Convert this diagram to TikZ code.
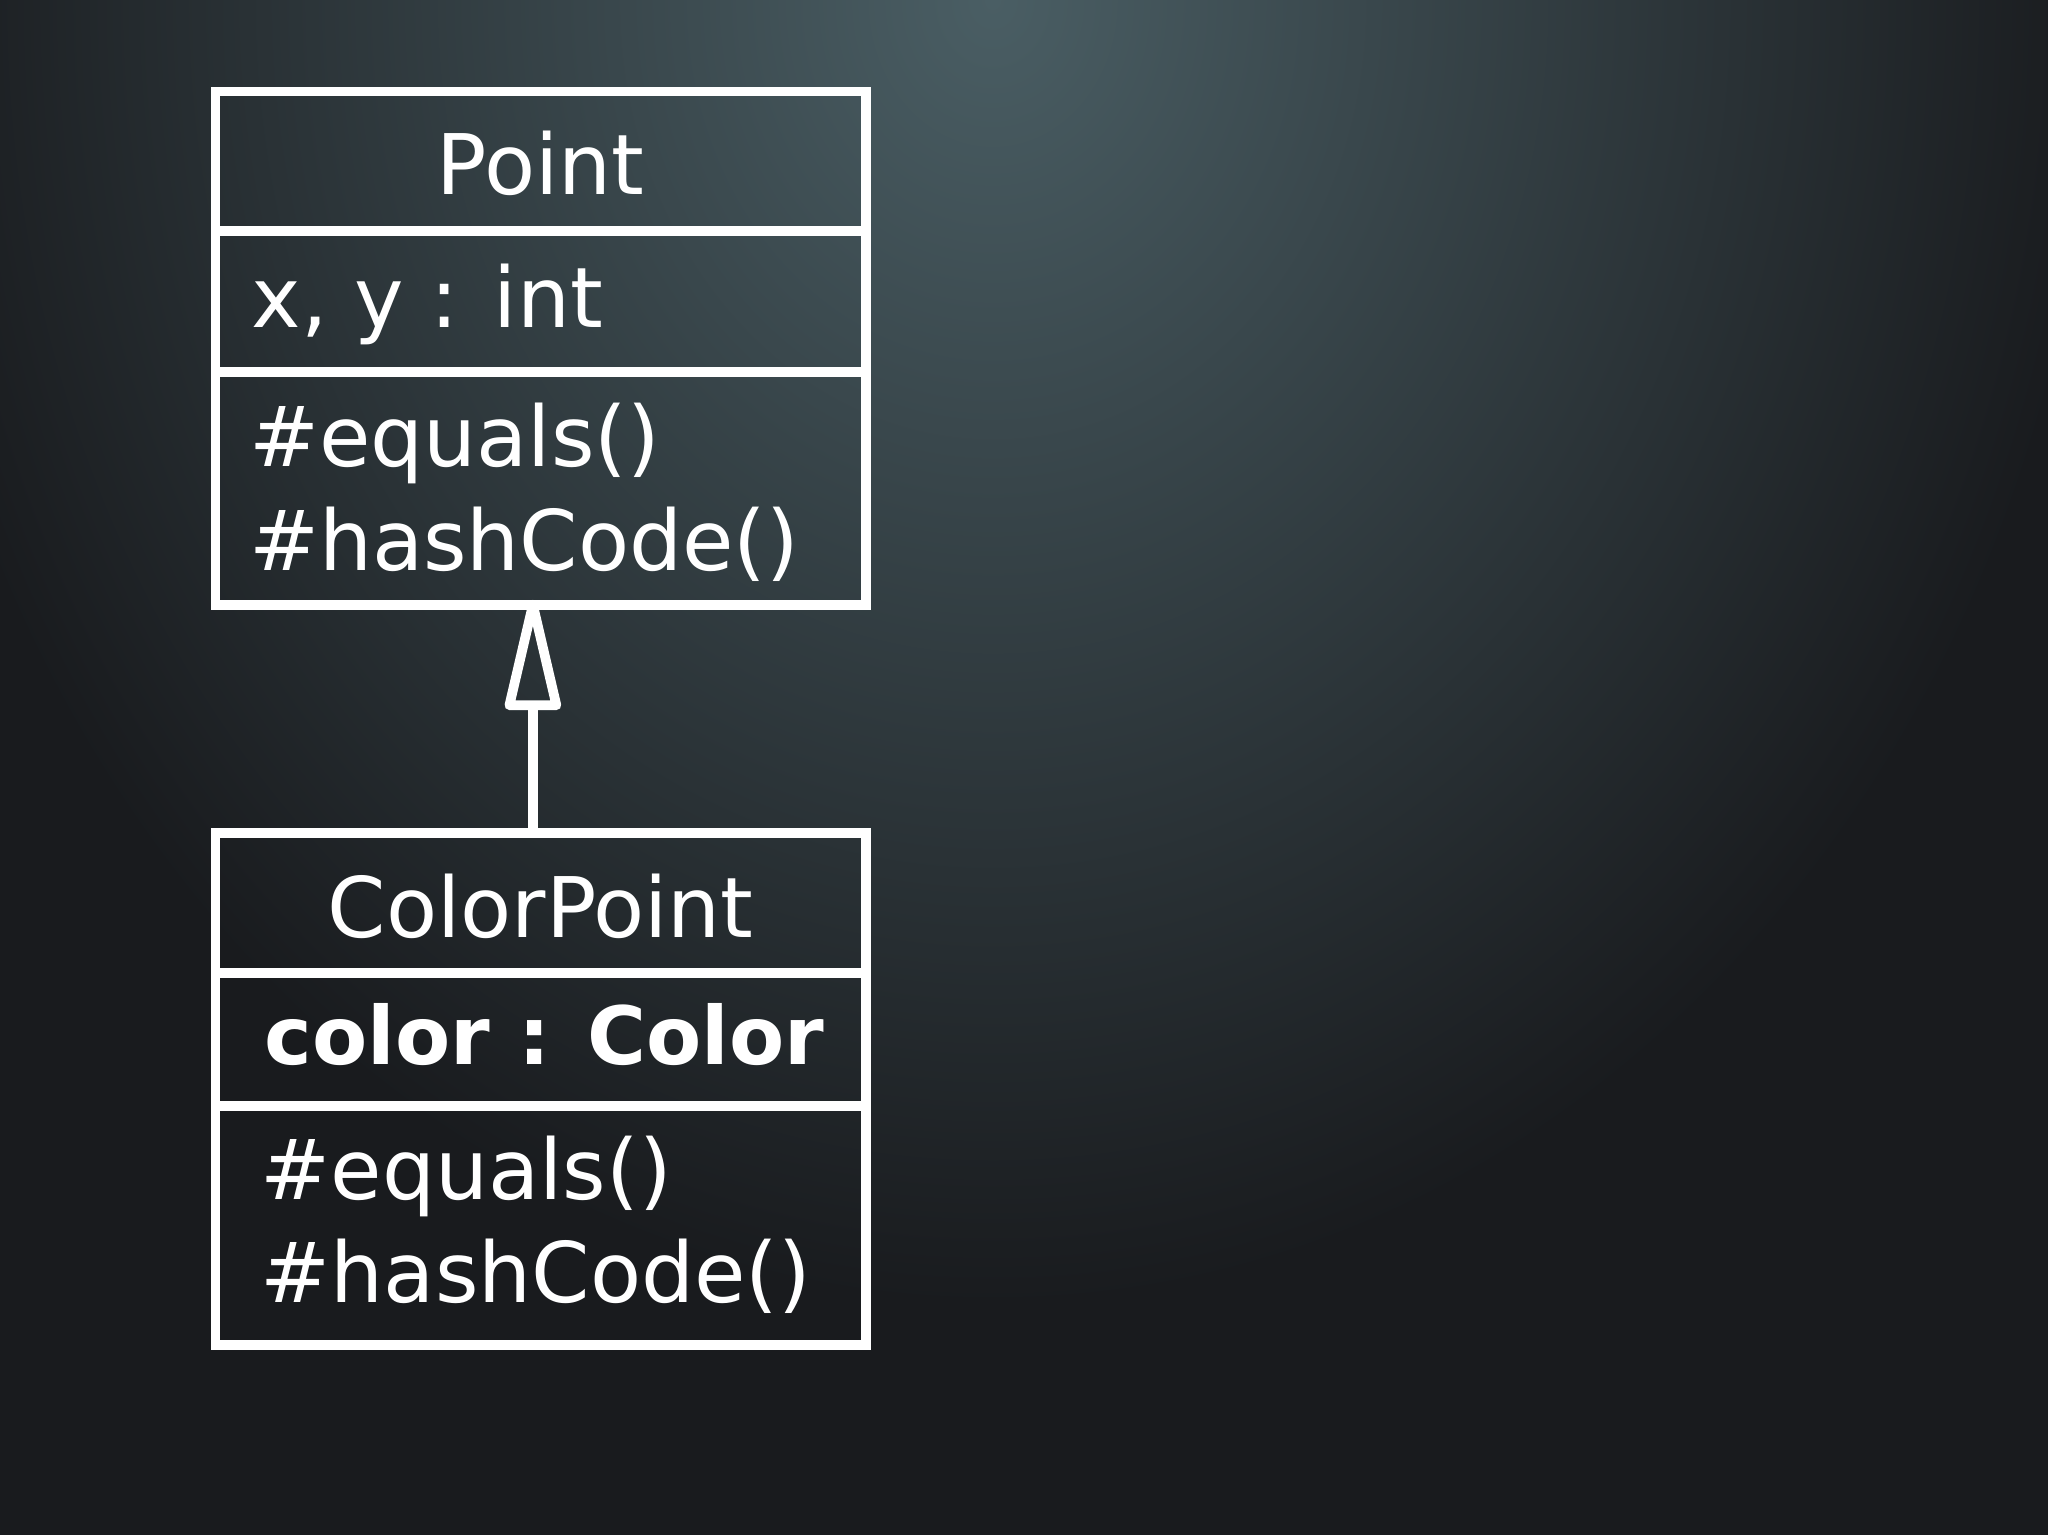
\documentclass[tikz,border=0pt]{standalone}
\usepackage{fontspec}
\setmainfont{DejaVu Sans}
\definecolor{bgdark}{HTML}{191B1E}
\definecolor{bglight}{HTML}{4A5E64}
\begin{document}
\begin{tikzpicture}[x=0.01cm,y=-0.01cm,
  uml/.style={draw=white,line width=2.1pt},
  txt/.style={text=white,font=\fontsize{18.2}{22}\selectfont,inner sep=0pt},
  bt/.style={txt,font=\fontsize{17.5}{22}\selectfont\bfseries}]
\useasboundingbox (0,0) rectangle (1568,1175);
\fill[bgdark] (0,0) rectangle (1568,1175);
\begin{scope}
\clip (0,0) rectangle (1568,1175);
\shade[inner color=bglight,outer color=bgdark] (760,0) ellipse [x radius=850, y radius=1000];
\end{scope}
% Point
\draw[uml] (165,70) rectangle (663,463);
\draw[uml] (165,177) -- (663,177);
\draw[uml] (165,285) -- (663,285);
\node[txt,anchor=base] (pn) at (414,149) {Point};
\node[txt,anchor=base west] (pa) at (192,251) {x, y : int};
\node[txt,anchor=base west] (pm1) at (190,357) {\#equals()};
\node[txt,anchor=base west] (pm2) at (190,437) {\#hashCode()};
\coordinate (ptop) at (408,463);
% ColorPoint
\draw[uml] (165,638) rectangle (663,1030);
\draw[uml] (165,745) -- (663,745);
\draw[uml] (165,847) -- (663,847);
\node[txt,anchor=base] (cn) at (414,718) {ColorPoint};
\node[bt,anchor=base] (ca) at (417,815) {color : Color};
\node[txt,anchor=base west] (cm1) at (199,918) {\#equals()};
\node[txt,anchor=base west] (cm2) at (199,997) {\#hashCode()};
\coordinate (cbot) at (408,638);
% generalization
\draw[uml] (cbot) -- (408,540);
\draw[uml,line join=round] (390,540) -- (ptop) -- (426,540) -- cycle;
\end{tikzpicture}
\end{document}
